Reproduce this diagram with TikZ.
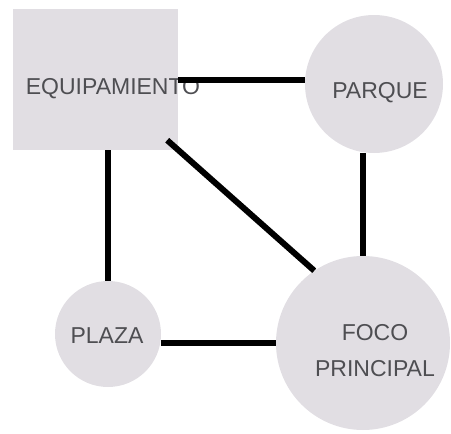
\documentclass[tikz,border=0pt]{standalone}
\usepackage{fontspec}
\setmainfont{Liberation Sans}
\usepackage{tikz}
\usetikzlibrary{positioning}

\definecolor{grisfondo}{RGB}{225,222,227}
\definecolor{gristexto}{RGB}{78,78,82}

\begin{document}
\begin{tikzpicture}[
    x=1pt, y=-1pt,
    bloque/.style={rectangle, fill=grisfondo, inner sep=0pt},
    zona/.style={circle, fill=grisfondo, inner sep=0pt},
    etiqueta/.style={text=gristexto, font=\fontsize{23}{36}\selectfont, align=center, inner sep=0pt, anchor=base},
    enlace/.style={line width=6pt, black}
]
\useasboundingbox (0,0) rectangle (451,434);

% Nodos principales
\node[bloque, minimum width=165pt, minimum height=141pt] (E) at (95.5,79.5) {};
\node[zona, minimum size=138pt] (P) at (374,84) {};
\node[zona, minimum size=106pt] (L) at (108,334) {};
\node[zona, minimum size=174pt] (F) at (363,343) {};

% Textos
\node[etiqueta] (tE) at (113,94) {EQUIPAMIENTO};
\node[etiqueta] (tP) at (380,98) {PARQUE};
\node[etiqueta] (tL) at (107,343) {PLAZA};
\node[etiqueta] (tF) at (375,376) {FOCO\\PRINCIPAL};

% Conexiones
\coordinate (esq) at ([xshift=-11pt, yshift=10pt]E.south east);
\draw[enlace] (E.east) -- (E.east -| P.west);
\draw[enlace] (L.north) -- (L.north |- E.south);
\draw[enlace] (F.north) -- (F.north |- P.south);
\draw[enlace] (F.west) -- (F.west -| L.east);
\draw[enlace] (esq) -- (F.124);

\end{tikzpicture}
\end{document}
